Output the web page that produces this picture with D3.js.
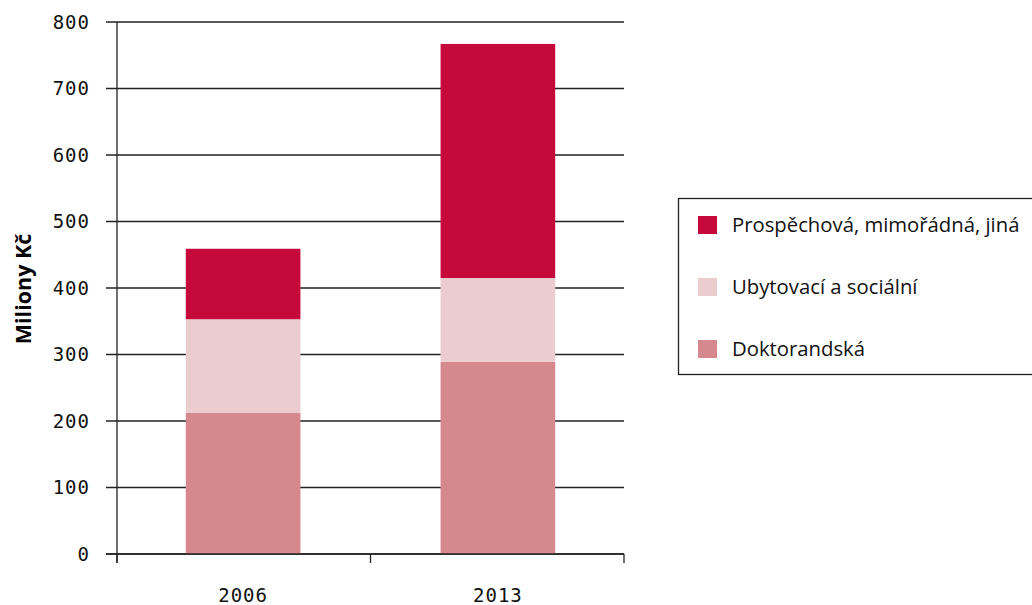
<!DOCTYPE html>
<html><head><meta charset="utf-8">
<script src="https://cdn.jsdelivr.net/npm/d3@7"></script>
<style>body{margin:0;background:#fff}svg{display:block}</style>
</head><body>
<svg id="c" width="1032" height="605"></svg>
<script>
const categories = ["2006", "2013"];
const seriesNames = ["Doktorandská", "Ubytovací a sociální", "Prospěchová, mimořádná, jiná"];
const doktorandska = [212, 289];
const ubytovaci = [141, 126];
const prospechova = [106, 352];
const yTicks = [0, 100, 200, 300, 400, 500, 600, 700, 800];
const colors = ["#D5898F", "#EBCDD0", "#C5093B"];

const svg = d3.select("#c");
const x = d3.scaleBand().domain(categories).range([117, 624]).paddingInner(0.55).paddingOuter(0.27);
const y = d3.scaleLinear().domain([0, 800]).range([554, 22]);

const data = categories.map((c, i) => ({cat: c, d: doktorandska[i], u: ubytovaci[i], p: prospechova[i]}));
const stack = d3.stack().keys(["d", "u", "p"])(data);

// gridlines
svg.append("g").selectAll("line").data(yTicks).join("line")
  .attr("x1", 106).attr("x2", 624)
  .attr("y1", d => y(d)).attr("y2", d => y(d))
  .attr("stroke", "#222").attr("stroke-width", 1.3);

// bars
svg.append("g").selectAll("g").data(stack).join("g")
  .attr("fill", (d, i) => colors[i])
  .selectAll("rect").data(d => d).join("rect")
  .attr("x", d => x(d.data.cat))
  .attr("width", x.bandwidth())
  .attr("y", d => y(d[1]))
  .attr("height", d => y(d[0]) - y(d[1]));

// y axis line
svg.append("line").attr("x1", 117).attr("x2", 117).attr("y1", 22).attr("y2", 563)
  .attr("stroke", "#222").attr("stroke-width", 1.3);
// x axis line
svg.append("line").attr("x1", 106).attr("x2", 624).attr("y1", 554).attr("y2", 554)
  .attr("stroke", "#222").attr("stroke-width", 1.3);
// x ticks at band boundaries
const xb = [x.range()[0], (x(categories[0]) + x(categories[1]) + x.bandwidth()) / 2, x.range()[1]];
svg.append("g").selectAll("line").data(xb).join("line")
  .attr("x1", d => d).attr("x2", d => d).attr("y1", 554).attr("y2", 563)
  .attr("stroke", "#222").attr("stroke-width", 1.3);

// y tick labels
svg.append("g").selectAll("text").data(yTicks).join("text")
  .attr("x", 90).attr("y", d => y(d)).attr("dy", "0.36em")
  .attr("text-anchor", "end")
  .attr("font-family", "DejaVu Sans Mono").attr("font-size", 19).attr("letter-spacing", 1)
  .attr("fill", "#111").text(d => d);

// x labels
svg.append("g").selectAll("text").data(categories).join("text")
  .attr("x", d => x(d) + x.bandwidth() / 2).attr("y", 602)
  .attr("text-anchor", "middle")
  .attr("font-family", "DejaVu Sans Mono").attr("font-size", 19).attr("letter-spacing", 1)
  .attr("fill", "#111").text(d => d);

// y title
svg.append("text").attr("transform", "translate(31,289) rotate(-90)")
  .attr("text-anchor", "middle")
  .attr("font-family", "Open Sans").attr("font-weight", "bold").attr("font-size", 21.5)
  .attr("fill", "#000").text("Miliony Kč");

// legend
svg.append("rect").attr("x", 678.5).attr("y", 198.5).attr("width", 400).attr("height", 176)
  .attr("fill", "#fff").attr("stroke", "#222").attr("stroke-width", 1.3);
const legendOrder = [2, 1, 0];
const lg = svg.append("g").selectAll("g").data(legendOrder).join("g")
  .attr("transform", (d, i) => `translate(698,${216 + i * 62})`);
lg.append("rect").attr("width", 19).attr("height", 18).attr("fill", d => colors[d]);
lg.append("text").attr("x", 34).attr("y", 9).attr("dy", "0.36em")
  .attr("font-family", "Open Sans").attr("font-size", 20.3).attr("fill", "#111")
  .text(d => seriesNames[d]);
</script>
</body></html>
